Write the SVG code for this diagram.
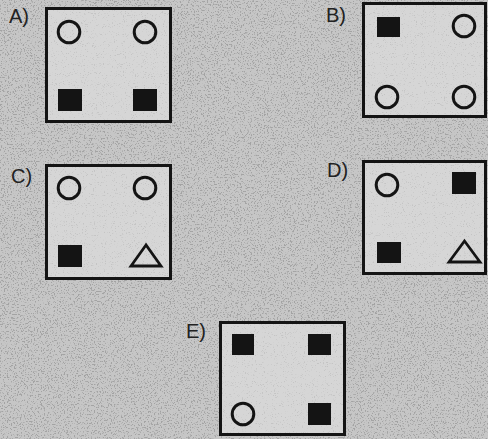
<svg xmlns="http://www.w3.org/2000/svg" width="488" height="439" viewBox="0 0 488 439">
  <defs>
    <style>
      .bg { fill: #c6c6c6; }
      .panel { fill: #d6d6d6; stroke: #141414; stroke-width: 3; }
      .ring { fill: none; stroke: #141414; stroke-width: 3; }
      .sq { fill: #141414; }
      .tri { fill: none; stroke: #141414; stroke-width: 2.8; stroke-linejoin: miter; }
      .lbl { font-family: "Liberation Sans", Arial, sans-serif; font-size: 20px; fill: #222; }
    </style>
    <filter id="speckle" x="0" y="0" width="100%" height="100%">
      <feTurbulence type="fractalNoise" baseFrequency="0.7" numOctaves="2" seed="7" result="t"/>
      <feColorMatrix in="t" type="matrix" values="0 0 0 0 0.3  0 0 0 0 0.3  0 0 0 0 0.3  9 0 0 0 -5"/>
    </filter>
    <filter id="speckleLight" x="0" y="0" width="100%" height="100%">
      <feTurbulence type="fractalNoise" baseFrequency="0.9" numOctaves="2" seed="11" result="t"/>
      <feColorMatrix in="t" type="matrix" values="0 0 0 0 0.4  0 0 0 0 0.4  0 0 0 0 0.4  7 0 0 0 -4.3"/>
    </filter>
  </defs>

  <rect class="bg" x="0" y="0" width="488" height="439"/>
  <rect x="0" y="0" width="488" height="439" fill="#000" filter="url(#speckle)" opacity="0.7"/>

  <g id="option-A">
    <rect class="panel" x="46.5" y="8.5" width="124" height="113"/>
    <rect x="48" y="10" width="121" height="110" fill="#000" filter="url(#speckleLight)" opacity="0.4"/>
    <text class="lbl" x="9" y="23">A)</text>
    <circle class="ring" cx="69" cy="32" r="10.8"/>
    <circle class="ring" cx="145" cy="32" r="10.8"/>
    <rect class="sq" x="58" y="89" width="24" height="22"/>
    <rect class="sq" x="133" y="89" width="24" height="22"/>
  </g>

  <g id="option-B">
    <rect class="panel" x="363.5" y="3.5" width="122" height="113"/>
    <rect x="365" y="5" width="119" height="110" fill="#000" filter="url(#speckleLight)" opacity="0.4"/>
    <text class="lbl" x="326" y="22">B)</text>
    <rect class="sq" x="377" y="17" width="23" height="20"/>
    <circle class="ring" cx="464" cy="26" r="10.8"/>
    <circle class="ring" cx="387" cy="97" r="10.8"/>
    <circle class="ring" cx="464" cy="97" r="10.8"/>
  </g>

  <g id="option-C">
    <rect class="panel" x="46.5" y="165.5" width="124" height="113"/>
    <rect x="48" y="167" width="121" height="110" fill="#000" filter="url(#speckleLight)" opacity="0.4"/>
    <text class="lbl" x="11" y="183">C)</text>
    <circle class="ring" cx="69" cy="188" r="10.8"/>
    <circle class="ring" cx="145" cy="188" r="10.8"/>
    <rect class="sq" x="58" y="245" width="24" height="22"/>
    <polygon class="tri" points="146,245 131,266 161,266"/>
  </g>

  <g id="option-D">
    <rect class="panel" x="363.5" y="161.5" width="122" height="112"/>
    <rect x="365" y="163" width="119" height="109" fill="#000" filter="url(#speckleLight)" opacity="0.4"/>
    <text class="lbl" x="327" y="177">D)</text>
    <circle class="ring" cx="387" cy="185" r="10.8"/>
    <rect class="sq" x="452" y="172" width="24" height="22"/>
    <rect class="sq" x="377" y="242" width="24" height="21"/>
    <polygon class="tri" points="464.5,241 449,262 480,262"/>
  </g>

  <g id="option-E">
    <rect class="panel" x="220.5" y="322.5" width="124" height="112"/>
    <rect x="222" y="324" width="121" height="109" fill="#000" filter="url(#speckleLight)" opacity="0.4"/>
    <text class="lbl" x="186" y="338">E)</text>
    <rect class="sq" x="232" y="334" width="22" height="21"/>
    <rect class="sq" x="308" y="334" width="23" height="21"/>
    <circle class="ring" cx="243" cy="414" r="10.8"/>
    <rect class="sq" x="308" y="403" width="23" height="22"/>
  </g>

  <g id="connectors"></g>
</svg>
